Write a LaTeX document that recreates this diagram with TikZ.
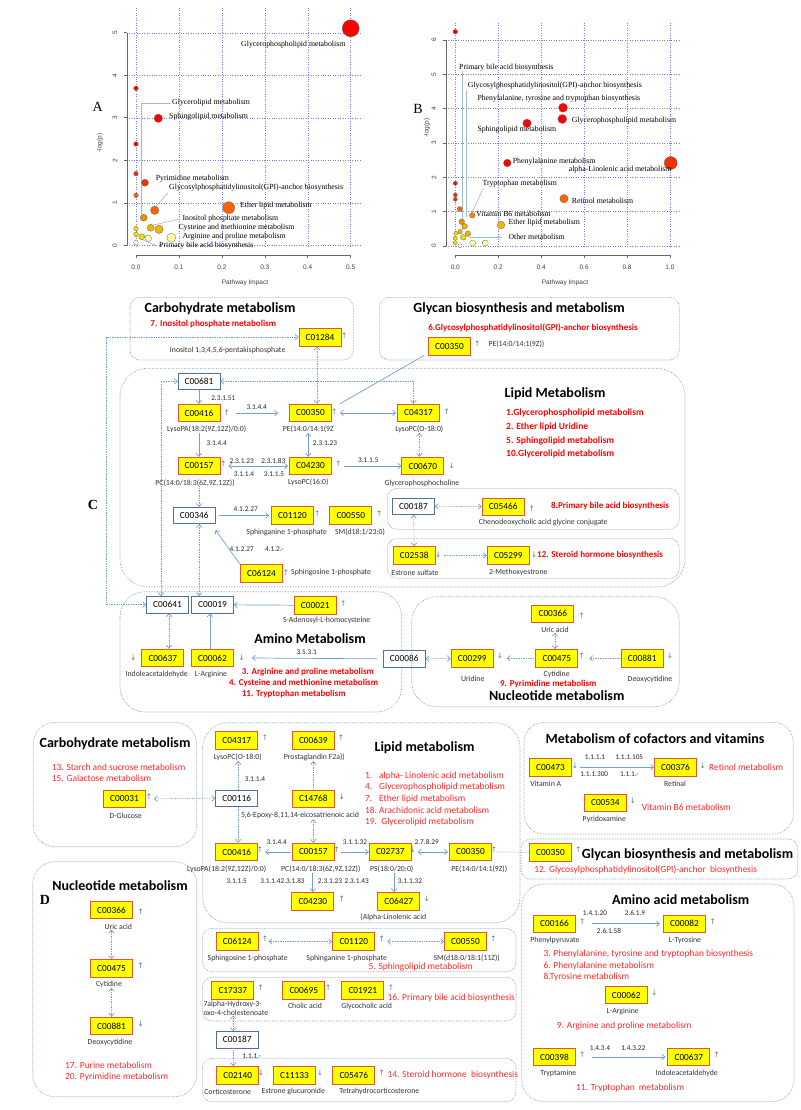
\documentclass[tikz,border=0pt]{standalone}
\usepackage{fontspec}
\setmainfont{Carlito}
\newfontfamily\plotfont{Liberation Serif}
\newfontfamily\axisfont{Liberation Sans}
\newfontfamily\symfont{DejaVu Sans}
\usetikzlibrary{arrows.meta}
\definecolor{boxred}{RGB}{226,86,40}
\definecolor{boxyel}{RGB}{255,255,0}
\definecolor{wblue}{RGB}{84,112,150}
\definecolor{arrblue}{RGB}{118,158,206}
\definecolor{grpblue}{RGB}{122,140,172}
\definecolor{gridblue}{RGB}{120,120,240}
\definecolor{leadblue}{RGB}{160,185,210}
\definecolor{pathred}{RGB}{255,40,40}
\definecolor{p1}{RGB}{255,0,0}
\definecolor{p2}{RGB}{240,50,0}
\definecolor{p3}{RGB}{250,100,0}
\definecolor{p4}{RGB}{245,140,0}
\definecolor{p5}{RGB}{245,180,0}
\definecolor{p6}{RGB}{240,220,0}
\definecolor{p7}{RGB}{255,255,165}
\definecolor{p8}{RGB}{255,255,255}
\newcommand\upar{↑}
\newcommand\dnar{↓}
\tikzset{
  cpd/.style={draw=boxred, fill=boxyel, line width=0.9pt, minimum width=42pt,
    minimum height=17.5pt, inner sep=0pt, font=\fontsize{9.3}{9.3}\selectfont},
  wcpd/.style={draw=wblue, fill=white, line width=0.6pt, minimum width=42pt,
    minimum height=16.5pt, inner sep=0pt, font=\fontsize{9.3}{9.3}\selectfont},
  cname/.style={font=\fontsize{7.8}{8.5}\selectfont, text=black!80, inner sep=0pt},
  enz/.style={font=\fontsize{7.3}{8}\selectfont, text=black!85, inner sep=0pt},
  mk/.style={font=\symfont\fontsize{7.5}{7.5}\selectfont, text=black!55, inner sep=0pt},
  grpbox/.style={draw=grpblue, densely dotted, line width=0.6pt},
  heading/.style={font=\bfseries\fontsize{14}{14}\selectfont, inner sep=0pt},
  pwb/.style={text=red, font=\bfseries\fontsize{9}{10}\selectfont, inner sep=0pt},
  pwr/.style={text=pathred, font=\fontsize{9.4}{10}\selectfont, inner sep=0pt},
  flow/.style={draw=arrblue, line width=0.7pt},
  dflow/.style={draw=arrblue, line width=0.7pt, densely dotted},
  gridln/.style={draw=gridblue, dotted, line width=0.45pt},
  axisln/.style={draw=black!60, line width=0.6pt},
  tick/.style={font=\axisfont\fontsize{6.5}{6.5}\selectfont, text=black!75, inner sep=0pt},
  plab/.style={font=\plotfont\fontsize{7.8}{8}\selectfont, inner sep=0pt, anchor=west},
  leader/.style={draw=leadblue, line width=0.6pt},
  dot/.style={draw=black!60, line width=0.3pt},
  panel/.style={font=\plotfont\fontsize{14}{14}\selectfont, inner sep=0pt},
  >={Straight Barb[length=3pt,width=5.5pt]}
}
\begin{document}
\begin{tikzpicture}[x=1pt, y=-1pt]
\useasboundingbox (0,0) rectangle (800,1110);
\fill[white] (0,0) rectangle (800,1110);

% ---------------- panel A ----------------
\foreach \i in {0,...,5} \draw[gridln] ({136+42.94*\i},8) -- ({136+42.94*\i},246);
\foreach \i in {0,...,5} \draw[gridln] (127,{245.3-42.5*\i}) -- (360,{245.3-42.5*\i});
\draw[axisln] (127,32.8) -- (127,245.3);
\foreach \i in {0,...,5} {
  \draw[axisln] (124,{245.3-42.5*\i}) -- (127,{245.3-42.5*\i});
  \node[tick, rotate=90] (ay\i) at (115,{245.3-42.5*\i}) {\i};
}
\draw[axisln] (136,255) -- (350.7,255);
\foreach \i/\t in {0/0.0,1/0.1,2/0.2,3/0.3,4/0.4,5/0.5} {
  \draw[axisln] ({136+42.94*\i},255) -- ({136+42.94*\i},258);
  \node[tick] (ax\i) at ({136+42.94*\i},267) {\t};
}
\node[tick] (axA) at (245,283) {Pathway Impact};
\node[tick, rotate=90] (ayA) at (100,143) {-log(p)};
\node[panel] (lblA) at (97.7,107) {A};
\draw[leader] (171,103) -- (141,103) -- (141,214);
\draw[leader] (168,192.7) -- (156,206.5);
\draw[leader] (180,219) -- (153.5,225);
\draw[leader] (157.3,246) -- (141,239);
\foreach \x/\y/\r/\c in {350.7/28.3/8.5/p1, 136/88.3/2.3/p1, 158.3/118.3/4.2/p1,
    136/144/2.3/p1, 136/173.7/2.3/p2, 145/182.7/3.5/p2, 136/195.3/2.3/p3,
    154.7/210.3/4.2/p3, 228.7/207.7/6/p3, 143.7/217.7/3.5/p4, 150.7/227.7/3.5/p5,
    159/229.3/4.2/p5, 136/228.7/2.3/p6, 136/234.3/2.3/p6, 141.7/236.7/3/p6,
    148.3/238.3/3.3/p7, 171.3/237.7/4.5/p7, 136/242.7/2.3/p8}
  \filldraw[dot, fill=\c] (\x,\y) circle (\r pt);
\node[plab, anchor=center] (aGpl) at (293.3,45) {Glycerophospholipid metabolism};
\node[plab] (aGll) at (172,102.7) {Glycerolipid metabolism};
\node[plab] (aSph) at (169,117) {Sphingolipid metabolism};
\node[plab] (aPyr) at (155.7,179) {Pyrimidine metabolism};
\node[plab] (aGpi) at (169,187.7) {Glycosylphosphatidylinositol(GPI)-anchor biosynthesis};
\node[plab] (aEth) at (240,205.3) {Ether lipid metabolism};
\node[plab] (aIno) at (182.3,218.7) {Inositol phosphate metabolism};
\node[plab] (aCys) at (178.3,227.3) {Cysteine and methionine metabolism};
\node[plab] (aArg) at (182.3,236.7) {Arginine and proline metabolism};
\node[plab] (aBil) at (159,246) {Primary bile acid biosynthesis};

% ---------------- panel B ----------------
\foreach \i in {0,...,5} \draw[gridln] ({455.3+42.94*\i},23) -- ({455.3+42.94*\i},246);
\foreach \i in {0,...,6} \draw[gridln] (446,{246-34.33*\i}) -- (680,{246-34.33*\i});
\draw[axisln] (446,40) -- (446,246);
\foreach \i in {0,...,6} {
  \draw[axisln] (443,{246-34.33*\i}) -- (446,{246-34.33*\i});
  \node[tick, rotate=90] (by\i) at (434,{246-34.33*\i}) {\i};
}
\draw[axisln] (455.3,255) -- (670,255);
\foreach \i/\t in {0/0.0,1/0.2,2/0.4,3/0.6,4/0.8,5/1.0} {
  \draw[axisln] ({455.3+42.94*\i},255) -- ({455.3+42.94*\i},258);
  \node[tick] (bx\i) at ({455.3+42.94*\i},267) {\t};
}
\node[tick] (bxA) at (565,283) {Pathway Impact};
\node[tick, rotate=90] (byA) at (427,128) {-log(p)};
\node[panel, fill=white, inner sep=1pt] (lblB) at (418,109) {B};
\draw[leader] (462,71) -- (462,230);
\draw[leader] (466.7,90) -- (466.7,217);
\draw[leader] (483.3,188.3) -- (470,216.7);
\draw[leader] (470,237.3) -- (501.7,237.3);
\foreach \x/\y/\r/\c in {455.3/31.7/2.3/p1, 563/107.7/4.5/p1, 562.3/119/4.5/p1,
    527/123.3/4.2/p1, 507.3/163/3.8/p1, 670.7/163/6.5/p2, 455.3/183.3/2/p1,
    455.3/195/2/p2, 455.3/199.3/2/p2, 564/198.7/4.2/p3, 459.7/209/2.5/p3,
    472.3/215.3/2.8/p4, 461.7/221.7/2.8/p4, 464.7/226.3/2.8/p5, 501/225/3.8/p5,
    468/233.7/2.8/p5, 460/231.7/2.3/p5, 455.7/233.3/2/p6, 463.3/237.3/2.8/p6,
    455.3/238.3/2/p6, 455.3/242.7/2/p6, 460/245.7/2/p8, 472.7/243/3/p7, 485.3/243/3/p7}
  \filldraw[dot, fill=\c] (\x,\y) circle (\r pt);
\node[plab] (bBil) at (459,68) {Primary bile acid biosynthesis};
\node[plab] (bGpi) at (467.7,85.7) {Glycosylphosphatidylinositol(GPI)-anchor biosynthesis};
\node[plab] (bPtt) at (477.3,98.3) {Phenylalanine, tyrosine and tryptophan biosynthesis};
\node[plab] (bGpl) at (571.7,120.7) {Glycerophospholipid metabolism};
\node[plab] (bSph) at (477.3,130) {Sphingolipid metabolism};
\node[plab] (bPhe) at (512.7,161.3) {Phenylalanine metabolism};
\node[plab, anchor=east] (bLin) at (671.7,170) {alpha-Linolenic acid metabolism};
\node[plab] (bTrp) at (482.3,183.7) {Tryptophan metabolism};
\node[plab] (bRet) at (571.7,201) {Retinol metabolism};
\node[plab] (bVb6) at (476,214.3) {Vitamin B6 metabolism};
\node[plab] (bEth) at (508.3,223) {Ether lipid metabolism};
\node[plab] (bOth) at (508.3,237.3) {Other metabolism};

% ---------------- panel C ----------------
\node[panel, font=\plotfont\bfseries\fontsize{14}{14}\selectfont] (lblC) at (93,505) {C};
% carbohydrate
\draw[grpbox, rounded corners=10pt] (130,297.3) rectangle (353.3,360);
\node[heading] (cCarbT) at (220,309) {Carbohydrate metabolism};
\node[pwb] (cCarbP) at (213.3,324.3) {7. Inositol phosphate metabolism};
\node[cpd] (c01284) at (320,337.2) {C01284};
\node[mk] (c01284m) at (344.3,335.7) {\upar};
\node[cname] (c01284n) at (227.7,350) {Inositol 1,3,4,5,6-pentakisphosphate};
% glycan
\draw[grpbox, rounded corners=10pt] (379.3,297.3) rectangle (679.3,360);
\node[heading] (cGlyT) at (519,309) {Glycan biosynthesis and metabolism};
\node[pwb] (cGlyP) at (533,328.3) {6.Glycosylphosphatidylinositol(GPI)-anchor biosynthesis};
\node[cpd] (c00350g) at (449.5,346.3) {C00350};
\node[mk] (c00350gm) at (477.3,344) {\upar};
\node[cname, anchor=west] (c00350gn) at (488.3,344) {PE(14:0/14:1(9Z))};
% lipid
\draw[grpbox, rounded corners=28pt] (120,368.3) rectangle (685,587);
\node[heading] (cLipT) at (555,393.3) {Lipid Metabolism};
\node[pwb, anchor=west, font=\bfseries\fontsize{9.5}{10}\selectfont] (cLipP1) at (506,413.3) {1.Glycerophospholipid metabolism};
\node[pwb, anchor=west, font=\bfseries\fontsize{9.5}{10}\selectfont] (cLipP2) at (506,426.7) {2. Ether lipid Uridine};
\node[pwb, anchor=west, font=\bfseries\fontsize{9.5}{10}\selectfont] (cLipP3) at (506,440.7) {5. Sphingolipid metabolism};
\node[pwb, anchor=west, font=\bfseries\fontsize{9.5}{10}\selectfont] (cLipP4) at (506,453.7) {10.Glycerolipid metabolism};
\node[wcpd] (c00681) at (199,381.3) {C00681};
\node[cpd] (c00416) at (199,413) {C00416};
\node[mk] (c00416m) at (226.7,412.7) {\upar};
\node[cname] (c00416n) at (206.7,429.3) {LysoPA(18:2(9Z,12Z)/0:0)};
\node[cpd] (c00350) at (310.5,413) {C00350};
\node[mk] (c00350m) at (334.3,412) {\upar};
\node[cname] (c00350n) at (308.3,429.3) {PE(14:0/14:1(9Z};
\node[cpd] (c04317) at (418.5,413) {C04317};
\node[mk] (c04317m) at (446.7,412) {\upar};
\node[cname] (c04317n) at (419.3,429.3) {LysoPC(O-18:0)};
\node[cpd] (c00157) at (199,466) {C00157};
\node[mk] (c00157m) at (223.3,464) {\upar};
\node[cname] (c00157n) at (195,482.7) {PC(14:0/18:3(6Z,9Z,12Z))};
\node[cpd] (c04230) at (310.5,466) {C04230};
\node[mk] (c04230m) at (338.3,464) {\upar};
\node[cname] (c04230n) at (308.3,482.7) {LysoPC(16:0)};
\node[cpd] (c00670) at (422.8,466) {C00670};
\node[mk] (c00670m) at (451.7,466) {\dnar};
\node[cname] (c00670n) at (422,483.3) {Glycerophosphocholine};
\node[enz] (e1) at (223.3,398.3) {2.3.1.51};
\node[enz] (e2) at (256.7,406.7) {3.1.4.4};
\node[enz] (e3) at (325,443.3) {2.3.1.23};
\node[enz] (e4) at (216.7,443.3) {3.1.4.4};
\node[enz] (e5) at (241.7,460.7) {2.3.1.23};
\node[enz] (e6) at (273.3,460.7) {2.3.1.83};
\node[enz] (e7) at (244,474) {3.1.1.4};
\node[enz] (e8) at (274,474) {3.1.1.5};
\node[enz] (e9) at (368.3,460) {3.1.1.5};
\draw[flow, ->] (c00681) -- (c00416);
\draw[flow, ->] ([xshift=16pt]c00416.east) -- ([xshift=-11pt]c00350.west);
\draw[flow, <->] ([xshift=8pt]c00350.east) -- ([xshift=-1pt]c04317.west);
\draw[dflow, <->] (c04317n.south) -- (c04317n.south |- c00670.north);
\draw[flow, <->] (c00350n.south) -- (c00350n.south |- c04230.north);
\draw[flow, ->] (c00416n.south -| c00157) -- (c00157.north);
\draw[flow, <->] ([xshift=8pt]c00157.east) -- ([xshift=-1pt]c04230.west);
\draw[flow, ->] ([xshift=12pt]c04230.east) -- (c00670.west);
\draw[dflow, <->] ([xshift=-3pt]c01284.south) -- ([xshift=-3pt]c01284.south |- c00350.north);
\draw[flow] ([xshift=-4pt]c00350g.south west) -- ([xshift=8pt]c00350.north east);
\draw[dflow, <->] (c00681.east) -| ([xshift=-5pt]c04317.north);
% bile acid
\draw[grpbox, rounded corners=10pt] (387.3,488.3) rectangle (679.3,529.3);
\node[wcpd] (c00187) at (413.5,506.2) {C00187};
\node[cpd] (c05466) at (503.2,506.7) {C05466};
\node[mk] (c05466m) at (531.7,508.7) {\upar};
\node[cname] (c05466n) at (543.3,522.7) {Chenodeoxycholic acid glycine conjugate};
\node[pwb] (cBileP) at (610,506) {8.Primary bile acid biosynthesis};
\draw[dflow, <->] (c00187) -- (c05466);
% steroid
\draw[grpbox, rounded corners=10pt] (387.3,538.3) rectangle (679.3,578.3);
\node[cpd] (c02538) at (414.2,555.5) {C02538};
\node[mk] (c02538m) at (438.3,555) {\dnar};
\node[cname] (c02538n) at (415,572.7) {Estrone sulfate};
\node[cpd] (c05299) at (508.3,555.5) {C05299};
\node[mk] (c05299m) at (534,555) {\dnar};
\node[cname] (c05299n) at (518.3,572.7) {2-Methoxyestrone};
\node[pwb, anchor=west] (cSterP) at (537,555.5) {12. Steroid hormone biosynthesis};
\draw[dflow, ->] ([xshift=8pt]c02538.east) -- (c05299.west);
\draw[dflow, <->] (c00187) -- (c02538);
% sphingolipid
\node[wcpd] (c00346) at (194.2,515.5) {C00346};
\node[cpd] (c01120) at (292.5,515.5) {C01120};
\node[mk] (c01120m) at (317.3,513.3) {\upar};
\node[cname] (c01120n) at (286.7,532.3) {Sphinganine 1-phosphate};
\node[cpd] (c00550) at (350.8,515.5) {C00550};
\node[mk] (c00550m) at (379.3,513.3) {\upar};
\node[cname] (c00550n) at (360,532.3) {SM(d18:1/23:0)};
\node[cpd] (c06124) at (261.5,573.5) {C06124};
\node[mk] (c06124m) at (286,572.7) {\upar};
\node[cname, anchor=west] (c06124n) at (291,572.7) {Sphingosine 1-phosphate};
\node[enz] (e10) at (245.7,509.3) {4.1.2.27};
\node[enz] (e11) at (241.7,549.3) {4.1.2.27};
\node[enz] (e12) at (274.3,549.3) {4.1.2.-};
\draw[flow, ->, shorten <=3pt, shorten >=2pt] (c00346) -- (c01120);
\draw[flow, ->] (c06124.north west) -- ([yshift=-6pt]c00346.south east);
\draw[dflow, ->] ([xshift=5pt]c00346.north |- c00157n.south) -- ([xshift=5pt]c00346.north);
% amino
\draw[grpbox, rounded corners=25pt] (120,591.7) rectangle (401.7,712);
\node[wcpd] (c00641) at (167.5,604.7) {C00641};
\node[wcpd] (c00019) at (212.5,604.7) {C00019};
\node[cpd] (c00021) at (315.2,605.3) {C00021};
\node[mk] (c00021m) at (343.3,603.3) {\upar};
\node[cname] (c00021n) at (326.7,620.7) {S-Adenosyl-L-homocysteine};
\node[heading] (cAmiT) at (310,638.3) {Amino Metabolism};
\node[cpd] (c00637) at (162.8,658) {C00637};
\node[mk] (c00637m) at (133.3,658) {\dnar};
\node[cname] (c00637n) at (156.7,674.3) {Indoleacetaldehyde};
\node[cpd] (c00062) at (212.5,658) {C00062};
\node[mk] (c00062m) at (241.7,658) {\dnar};
\node[cname] (c00062n) at (211,674.3) {L-Arginine};
\node[wcpd] (c00086) at (404.2,658.8) {C00086};
\node[enz] (e13) at (306.7,652.3) {3.5.3.1};
\node[pwb, anchor=west] (cAmiP1) at (241.7,671.7) {3. Arginine and proline metabolism};
\node[pwb, anchor=west] (cAmiP2) at (229,683) {4. Cysteine and methionine metabolism};
\node[pwb, anchor=west] (cAmiP3) at (241.7,694) {11. Tryptophan metabolism};
\draw[flow, ->] (c00021) -- (c00019);
\draw[dflow, <->] ([xshift=1.5pt]c00641.south) -- ([xshift=1.5pt]c00641.south |- c00637.north);
\draw[flow, ->] ([xshift=-2.5pt]c00062.north) -- ([xshift=-2.5pt]c00062.north |- c00019.south);
\draw[flow, ->] ([xshift=-6pt]c00086.west) -- ([xshift=18pt]c00062.east);
\draw[dflow, <->] ([xshift=5pt]c00346.south) -- ([xshift=5pt]c00346.south |- c00019.north);
\draw[dflow, <->] (c00681.west) -| ([xshift=-6.5pt]c00641.north);
\coordinate (cleft) at (106.7,0);
\draw[dflow, <->] (c01284.west) -| (cleft |- c00641.west) -- (c00641.west);
% nucleotide
\draw[grpbox, rounded corners=25pt] (411.7,596.7) rectangle (679.3,706.7);
\node[cpd] (c00366) at (552.8,613.8) {C00366};
\node[mk] (c00366m) at (581.7,616) {\upar};
\node[cname] (c00366n) at (555,630) {Uric acid};
\node[cpd] (c00299) at (472.2,658.3) {C00299};
\node[mk] (c00299m) at (500,656) {\dnar};
\node[cname] (c00299n) at (472.7,679.3) {Uridine};
\node[cpd] (c00475) at (556.8,658.3) {C00475};
\node[mk] (c00475m) at (581.7,656) {\upar};
\node[cname] (c00475n) at (556.7,674.3) {Cytidine};
\node[cpd] (c00881) at (642.2,658.3) {C00881};
\node[mk] (c00881m) at (670,656) {\dnar};
\node[cname] (c00881n) at (650,679.3) {Deoxycytidine};
\node[pwb] (cPyrP) at (548.3,684) {9. Pyrimidine metabolism};
\node[heading] (cNucT) at (556.7,696) {Nucleotide metabolism};
\draw[dflow, <->] (c00086) -- (c00299);
\draw[dflow, ->] (c00475.west) -- ([xshift=13pt]c00299.east);
\draw[dflow, ->] (c00881.west) -- ([xshift=11pt]c00475.east);
\draw[dflow, <->] (c00366n.south) -- (c00366n.south |- c00475.north);

% ---------------- panel D ----------------
\node[panel, font=\plotfont\bfseries\fontsize{14}{14}\selectfont] (lblD) at (45,900) {D};
% carbohydrate
\draw[grpbox, rounded corners=22pt] (33.3,722.3) rectangle (196.7,846.7);
\node[heading] (dCarbT) at (115,743.3) {Carbohydrate metabolism};
\node[pwr, anchor=west] (dCarbP1) at (51.7,767.3) {13. Starch and sucrose metabolism};
\node[pwr, anchor=west] (dCarbP2) at (51.7,778.7) {15. Galactose metabolism};
\node[cpd] (d00031) at (124.5,798.7) {C00031};
\node[mk] (d00031m) at (149,797) {\upar};
\node[cname] (d00031n) at (125.7,815.7) {D-Glucose};
% lipid
\draw[grpbox, rounded corners=25pt] (202.7,722.7) rectangle (520,922.7);
\node[heading] (dLipT) at (424.5,747.7) {Lipid metabolism};
\node[pwr, anchor=west] (dLipP1) at (365,775.7) {\makebox[14pt][l]{1.}alpha- Linolenic acid metabolism};
\node[pwr, anchor=west] (dLipP2) at (365,787.3) {\makebox[14pt][l]{4.}Glycerophospholipid metabolism};
\node[pwr, anchor=west] (dLipP3) at (365,799) {\makebox[14pt][l]{7.}Ether lipid metabolism};
\node[pwr, anchor=west] (dLipP4) at (365,810.7) {\makebox[14pt][l]{18.}Arachidonic acid metabolism};
\node[pwr, anchor=west] (dLipP5) at (365,821.7) {\makebox[14pt][l]{19.} Glycerolipid metabolism};
\node[cpd] (d04317) at (236.7,740.5) {C04317};
\node[mk] (d04317m) at (265,738) {\upar};
\node[cname] (d04317n) at (237.7,757.3) {LysoPC(O-18:0)};
\node[cpd] (d00639) at (313.3,740.5) {C00639};
\node[mk] (d00639m) at (341,738) {\upar};
\node[cname] (d00639n) at (314.3,757.3) {Prostaglandin F2a))};
\node[wcpd] (d00116) at (236.7,798.3) {C00116};
\node[cpd] (d14768) at (313.3,798.7) {C14768};
\node[mk] (d14768m) at (341.7,797) {\dnar};
\node[cname] (d14768n) at (300,815.7) {5,6-Epoxy-8,11,14-eicosatrienoic acid};
\node[cpd] (d00416) at (236.7,852) {C00416};
\node[mk] (d00416m) at (260,850) {\upar};
\node[cname] (d00416n) at (226.7,869) {LysoPA(18:2(9Z,12Z)/0:0)};
\node[cpd] (d00157) at (313.3,852) {C00157};
\node[mk] (d00157m) at (336.7,850) {\upar};
\node[cname] (d00157n) at (320.8,869) {PC(14:0/18:3(6Z,9Z,12Z))};
\node[cpd] (d02737) at (390.3,852) {C02737};
\node[mk] (d02737m) at (412.7,850) {\dnar};
\node[cname] (d02737n) at (391.7,869) {PS(18:0/20:0)};
\node[cpd] (d00350) at (470.5,852) {C00350};
\node[mk] (d00350m) at (494,850) {\upar};
\node[cname] (d00350n) at (479.3,869) {PE(14:0/14:1(9Z))};
\node[cpd] (d04230) at (312.8,901.3) {C04230};
\node[mk] (d04230m) at (341.7,899) {\upar};
\node[cpd] (d06427) at (398.7,901.3) {C06427};
\node[mk] (d06427m) at (426.7,899) {\dnar};
\node[cname] (d06427n) at (393.3,917.3) {(Alpha-Linolenic acid};
\node[enz] (f1) at (255,779.3) {3.1.1.4};
\node[enz] (f2) at (276.7,842.3) {3.1.4.4};
\node[enz] (f3) at (355,841.7) {3.1.1.32};
\node[enz] (f4) at (426.7,841.7) {2.7.8.29};
\node[enz] (f5) at (236.7,881) {3.1.1.5};
\node[enz] (f6) at (282.5,881) {3.1.1.42.3.1.83};
\node[enz] (f7) at (330,881) {2.3.1.23};
\node[enz] (f8) at (356.7,881) {2.3.1.43};
\node[enz] (f9) at (410,881) {3.1.1.32};
\draw[dflow, <->] ([xshift=8pt]d00031.east) -- (d00116.west);
\draw[dflow, ->] ([xshift=1.5pt]d00116.north) -- ([xshift=1.5pt]d00116.north |- d04317n.south);
\draw[dflow, ->] (d14768.north) -- (d14768.north |- d00639n.south);
\draw[dflow, ->] ([xshift=1.5pt]d00116.south) -- ([xshift=1.5pt]d00116.south |- d00416.north);
\draw[dflow, <->] (d14768n.south -| d00157) -- (d00157.north);
\draw[flow, ->] ([xshift=-1pt]d00157.west) -- ([xshift=7pt]d00416.east);
\draw[flow, ->] ([xshift=6pt]d00157.east) -- (d02737.west);
\draw[flow, <->] ([xshift=6pt]d02737.east) -- ([xshift=-1pt]d00350.west);
\draw[flow, ->] (d00157n.south -| d04230) -- (d04230.north);
\draw[flow, ->] ([xshift=-4.7pt]d06427.north |- d02737n.south) -- ([xshift=-4.7pt]d06427.north);
% cofactors and vitamins
\draw[grpbox, rounded corners=20pt] (524,722.3) rectangle (793.3,834);
\node[heading] (dCofT) at (655,739) {Metabolism of cofactors and vitamins};
\node[cpd] (d00473) at (550.5,767.2) {C00473};
\node[mk] (d00473m) at (575,766) {\dnar};
\node[cname] (d00473n) at (545.7,784.3) {Vitamin A};
\node[cpd] (d00376) at (675.5,767.2) {C00376};
\node[mk] (d00376m) at (702.7,766) {\dnar};
\node[pwr, anchor=west] (dRetP) at (709,767.2) {Retinol metabolism};
\node[cname] (d00376n) at (675,784.3) {Retinal};
\node[cpd] (d00534) at (605.3,803) {C00534};
\node[mk] (d00534m) at (632.7,801) {\dnar};
\node[pwr, anchor=west] (dVb6P) at (641.7,807.7) {Vitamin B6 metabolism};
\node[cname] (d00534n) at (604.3,819.3) {Pyridoxamine};
\node[enz] (f10) at (595,757.3) {1.1.1.1};
\node[enz] (f11) at (629.3,757.3) {1.1.1.105};
\node[enz] (f12) at (594.3,774.3) {1.1.1.300};
\node[enz] (f13) at (629.3,774.3) {1.1.1.-};
\draw[flow, ->] ([xshift=8pt]d00473.east) -- (d00376.west);
% glycan
\draw[grpbox, rounded corners=10pt] (521,839) rectangle (797.7,879);
\node[cpd] (d00350g) at (550.5,852.2) {C00350};
\node[mk] (d00350gm) at (578.3,850) {\upar};
\node[heading, anchor=west] (dGlyT) at (581.7,855) {Glycan biosynthesis and metabolism};
\node[pwr] (dGlyP) at (645.7,870) {12. Glycosylphosphatidylinositol(GPI)-anchor\ \ biosynthesis};
\draw[dflow] (d00350g.west) -- ([xshift=4pt]d00350.east);
% nucleotide
\draw[grpbox, rounded corners=22pt] (32.7,861.7) rectangle (196.7,1096.7);
\node[heading] (dNucT) at (120,886) {Nucleotide metabolism};
\node[cpd] (d00366) at (111.5,910) {C00366};
\node[mk, text=wblue] (d00366m) at (140.7,912) {\upar};
\node[cname] (d00366n) at (118.3,926.7) {Uric acid};
\node[cpd] (d00475) at (111.5,968.3) {C00475};
\node[mk, text=wblue] (d00475m) at (140.7,966) {\upar};
\node[cname] (d00475n) at (109,984.3) {Cytidine};
\node[cpd] (d00881) at (111.5,1026) {C00881};
\node[mk, text=wblue] (d00881m) at (140.7,1024) {\dnar};
\node[cname] (d00881n) at (110,1042.7) {Deoxycytidine};
\node[pwr, anchor=west] (dNucP1) at (65,1065.7) {17. Purine metabolism};
\node[pwr, anchor=west] (dNucP2) at (65,1077) {20. Pyrimidine metabolism};
\draw[dflow, <->] (d00366n.south -| d00475) -- (d00475.north);
\draw[dflow, <->] (d00475n.south -| d00881) -- (d00881.north);
% sphingolipid
\draw[grpbox, rounded corners=10pt] (202.3,928.3) rectangle (516,971.7);
\node[cpd] (d06124) at (237.2,941.5) {C06124};
\node[mk] (d06124m) at (265,939) {\upar};
\node[cname] (d06124n) at (247.7,958.3) {Sphingosine 1-phosphate};
\node[cpd] (d01120) at (353.8,941.5) {C01120};
\node[mk] (d01120m) at (381.7,939) {\upar};
\node[cname] (d01120n) at (346.7,958.3) {Sphinganine 1-phosphate};
\node[cpd] (d00550) at (465.5,941.5) {C00550};
\node[mk] (d00550m) at (493.3,939) {\upar};
\node[cname] (d00550n) at (466.7,958.3) {SM(d18:0/18:1(11Z))};
\node[pwr] (dSphP) at (420.7,967.5) {5. Sphingolipid metabolism};
\draw[dflow, <->] ([xshift=10pt]d06124.east) -- (d01120.west);
\draw[dflow, <->] ([xshift=12pt]d01120.east) -- (d00550.west);
% primary bile acid
\draw[grpbox, rounded corners=10pt] (202.3,977.3) rectangle (516,1021);
\node[cpd] (d17337) at (232.8,990.3) {C17337};
\node[mk] (d17337m) at (260.7,988) {\upar};
\node[cname, anchor=west, align=left] (d17337n) at (203.3,1008.3) {7alpha-Hydroxy-3-\\oxo-4-cholestenoate};
\node[cpd] (d00695) at (303.8,990.3) {C00695};
\node[mk] (d00695m) at (328.3,988) {\upar};
\node[cname] (d00695n) at (305,1006.3) {Cholic acid};
\node[cpd] (d01921) at (362.8,990.3) {C01921};
\node[mk] (d01921m) at (391,988) {\upar};
\node[cname] (d01921n) at (366.7,1006.3) {Glycocholic acid};
\node[pwr, anchor=west] (dBilP) at (387.3,998.3) {16. Primary bile acid biosynthesis};
\node[wcpd] (d00187) at (237.2,1039.7) {C00187};
\node[enz] (f14) at (251.7,1055.7) {1.1.1.-};
\draw[dflow, <->] ([xshift=-4pt]d00187.north) -- ([xshift=-4pt]d00187.north |- d17337n.south);
% steroid hormone
\draw[grpbox, rounded corners=10pt] (202.3,1058.3) rectangle (516,1101.7);
\node[cpd] (d02140) at (237.7,1075.3) {C02140};
\node[mk] (d02140m) at (261,1073) {\dnar};
\node[cname] (d02140n) at (227.7,1091.7) {Corticosterone};
\node[cpd] (d11133) at (294.5,1075.3) {C11133};
\node[mk] (d11133m) at (320,1073) {\dnar};
\node[cname] (d11133n) at (293.3,1091.7) {Estrone glucuronide};
\node[cpd] (d05476) at (353.8,1075.3) {C05476};
\node[mk] (d05476m) at (381.7,1073) {\upar};
\node[cname] (d05476n) at (379.3,1091.7) {Tetrahydrocorticosterone};
\node[pwr, anchor=west] (dSteP) at (387.3,1075.3) {14. Steroid hormone\ \ biosynthesis};
\draw[dflow, ->] ([xshift=-4pt]d00187.south) -- ([xshift=-4pt]d00187.south |- d02140.north);
% amino acid
\draw[grpbox, rounded corners=22pt] (521.7,884) rectangle (794,1101.7);
\node[heading] (dAmiT) at (680.7,899.3) {Amino acid metabolism};
\node[cpd] (d00166) at (554.5,923.8) {C00166};
\node[mk] (d00166m) at (582.3,922) {\upar};
\node[cname] (d00166n) at (555,940) {Phenylpyruvate};
\node[cpd] (d00082) at (684.5,923.8) {C00082};
\node[mk] (d00082m) at (712.7,922) {\upar};
\node[cname] (d00082n) at (685,940) {L-Tyrosine};
\node[enz] (f15) at (595,913.3) {1.4.1.20};
\node[enz] (f16) at (635,913.3) {2.6.1.9};
\node[enz] (f17) at (609,930.7) {2.6.1.58};
\draw[flow, ->, shorten >=3pt] ([xshift=16pt]d00166.east) -- (d00082.west);
\node[pwr, anchor=west] (dAmiP1) at (543.3,954.3) {3. Phenylalanine, tyrosine and tryptophan biosynthesis};
\node[pwr, anchor=west] (dAmiP2) at (543.3,965.7) {6. Phenylalanine metabolism};
\node[pwr, anchor=west] (dAmiP3) at (543.3,977) {8.Tyrosine metabolism};
\node[cpd] (d00062) at (626.2,995) {C00062};
\node[mk] (d00062m) at (654.3,993) {\dnar};
\node[cname] (d00062n) at (622.7,1011.7) {L-Arginine};
\node[pwr, anchor=west] (dAmiP4) at (556.7,1025.7) {9. Arginine and proline metabolism};
\node[cpd] (d00398) at (554.5,1057) {C00398};
\node[mk] (d00398m) at (582.3,1055) {\upar};
\node[cname] (d00398n) at (558.3,1073.3) {Tryptamine};
\node[cpd] (d00637) at (688.8,1057) {C00637};
\node[mk] (d00637m) at (716.7,1055) {\upar};
\node[cname] (d00637n) at (686.7,1073.3) {Indoleacetaldehyde};
\node[enz] (f18) at (600,1047.7) {1.4.3.4};
\node[enz] (f19) at (633.3,1047.7) {1.4.3.22};
\draw[flow, ->] ([xshift=16pt]d00398.east) -- ([xshift=-2pt]d00637.west);
\node[pwr, anchor=west] (dAmiP5) at (576,1087.7) {11. Tryptophan\ \ metabolism};
\end{tikzpicture}
\end{document}
